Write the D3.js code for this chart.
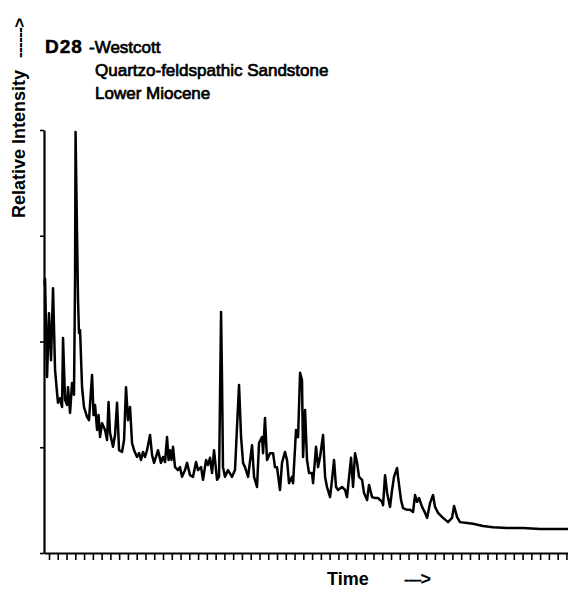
<!DOCTYPE html>
<html>
<head>
<meta charset="utf-8">
<script src="https://cdn.jsdelivr.net/npm/d3@7"></script>
<style>
  html, body { margin: 0; padding: 0; background: #fff; }
  svg { display: block; }
  text { font-family: "Liberation Sans", Arial, Helvetica, sans-serif; fill: #000; }
</style>
</head>
<body>
<div id="chart"></div>
<script>
// ---- Data ----
const titleLines = ["Quartzo-feldspathic Sandstone", "Lower Miocene"];
const sampleId = "D28";
const sampleName = "-Westcott";
const xLabel = "Time";
const yLabel = "Relative Intensity";

// Time (tick units) and relative intensity (% of tallest peak)
const time = [
  0.49, 0.55, 0.78, 1.00, 1.23, 1.46, 1.69, 1.92, 2.03, 2.26, 2.49, 2.60, 2.83, 3.06, 3.17, 3.40,
  3.63, 3.85, 3.97, 4.03, 4.14, 4.31, 4.42, 4.54, 4.77, 4.99, 5.34, 5.56, 5.91, 6.08, 6.25, 6.48,
  6.65, 6.82, 7.05, 7.39, 7.62, 7.79, 7.96, 8.30, 8.53, 8.76, 8.99, 9.33, 9.56, 9.78, 10.01, 10.24,
  10.47, 10.70, 11.04, 11.27, 11.49, 11.72, 11.95, 12.18, 12.52, 12.75, 12.98, 13.20, 13.43, 13.77,
  14.00, 14.23, 14.46, 14.63, 14.80, 14.97, 15.14, 15.37, 15.71, 15.94, 16.17, 16.51, 16.74, 17.08,
  17.42, 17.77, 17.99, 18.34, 18.56, 18.91, 19.13, 19.36, 19.59, 19.82, 20.16, 20.39, 20.62, 20.73,
  20.84, 21.07, 21.41, 21.87, 22.21, 22.44, 22.67, 22.90, 23.13, 23.35, 23.70, 24.15, 24.38, 24.72,
  24.95, 25.29, 25.41, 25.63, 25.86, 26.20, 26.55, 26.77, 27.00, 27.34, 27.57, 27.91, 28.14, 28.37,
  28.71, 28.83, 29.17, 29.40, 29.63, 29.85, 29.97, 30.20, 30.42, 30.65, 30.99, 31.11, 31.45, 31.68,
  31.91, 32.25, 32.48, 32.70, 33.05, 33.27, 33.50, 33.73, 33.96, 34.41, 34.76, 34.98, 35.44, 35.67,
  35.90, 36.13, 36.35, 36.70, 36.92, 37.27, 37.49, 37.84, 38.18, 38.52, 38.98, 39.09, 39.32, 39.55,
  39.89, 40.12, 40.34, 40.69, 40.80, 41.14, 41.37, 41.83, 42.17, 42.51, 42.74, 42.97, 43.19, 43.54,
  43.88, 44.11, 44.45, 44.79, 45.02, 45.36, 45.93, 46.50, 46.96, 47.19, 47.53, 47.87, 48.67, 49.35,
  50.49, 51.63, 53.23, 55.06, 56.99, 58.93, 60.18
];
const intensity = [
  63.4, 64.8, 41.6, 56.7, 45.6, 62.6, 43.3, 37.8, 35.5, 36.6, 34.5, 50.8, 36.2, 35.0, 39.2, 33.1,
  40.2, 37.4, 64.5, 99.5, 83.4, 59.8, 52.0, 52.7, 39.2, 34.5, 32.2, 31.4, 42.1, 32.6, 35.0, 29.1,
  32.6, 27.4, 30.7, 29.1, 26.7, 35.7, 28.4, 25.1, 27.9, 35.5, 24.3, 23.9, 26.7, 39.2, 31.4, 34.5,
  26.0, 24.3, 22.7, 23.6, 22.0, 23.9, 22.7, 24.3, 27.9, 23.2, 21.3, 22.7, 24.3, 21.3,
  22.7, 21.5, 27.4, 22.0, 24.3, 22.0, 25.1, 20.3, 19.6, 20.3, 18.0, 19.6, 21.3, 18.4,
  18.0, 21.5, 19.6, 20.3, 17.3, 22.0, 20.8, 22.5, 18.9, 24.3, 17.3, 18.0, 57.0, 40.9,
  20.3, 18.0, 19.6, 18.0, 19.6, 29.8, 39.7, 27.4, 21.3, 20.3, 18.0, 25.5, 18.0, 15.6,
  26.0, 27.4, 23.6, 31.9, 22.0, 23.6, 23.6, 20.3, 20.3, 14.9, 21.3, 23.9, 22.0, 16.5,
  18.0, 16.5, 29.1, 27.4, 42.6, 40.9, 22.7, 33.8, 22.0, 18.9, 18.9, 16.5, 25.1, 20.3,
  22.7, 27.9, 18.0, 15.6, 13.2, 17.3, 22.0, 15.6, 14.9, 15.6, 14.9, 13.2, 22.5, 15.6,
  23.6, 21.3, 18.0, 17.3, 14.2, 12.5, 16.1, 13.2, 13.0, 13.0, 12.1, 11.3, 18.4, 14.2,
  10.9, 14.9, 18.0, 20.1, 18.0, 12.5, 10.6, 10.2, 10.2, 9.7, 13.7, 12.1, 13.0, 10.9,
  9.5, 8.3, 11.8, 13.7, 10.9, 9.5, 8.3, 7.3, 8.3, 11.1, 8.5, 7.3, 7.1, 6.9,
  6.4, 6.1, 5.9, 5.9, 5.7, 5.7, 5.7
];
const xTicks = d3.range(1, 61);          // one tick per time unit
const yTicks = [0, 25, 50, 75, 100];     // relative intensity ticks

// ---- Layout ----
const W = 568, H = 589;
const svg = d3.select("#chart").append("svg").attr("width", W).attr("height", H);

const x = d3.scaleLinear().domain([0.43, 60.18]).range([44, 568]);
const y = d3.scaleLinear().domain([0, 100]).range([553, 130]);

// axes
const gx = svg.append("g").attr("transform", `translate(0,${y(0)})`)
  .call(d3.axisBottom(x).tickValues(xTicks).tickSize(7).tickSizeOuter(0).tickFormat(""));
gx.select(".domain").attr("stroke", "#000").attr("stroke-width", 2);
gx.selectAll(".tick line").attr("stroke", "#000").attr("stroke-width", 1.6);

const gy = svg.append("g").attr("transform", `translate(${x(0.43)},0)`)
  .call(d3.axisLeft(y).tickValues(yTicks).tickSize(4).tickSizeOuter(0).tickFormat(""));
gy.select(".domain").attr("stroke", "#000").attr("stroke-width", 2.2);
gy.selectAll(".tick line").attr("stroke", "#000").attr("stroke-width", 1.6);

// trace
const pts = time.map((t, i) => [t, intensity[i]]);
svg.append("path")
  .datum(pts)
  .attr("fill", "none")
  .attr("stroke", "#000")
  .attr("stroke-width", 2.5)
  .attr("stroke-linejoin", "round")
  .attr("d", d3.line().x(d => x(d[0])).y(d => y(d[1])));

// title block
const t1 = svg.append("text").attr("x", 45).attr("y", 53).attr("font-size", 17);
t1.append("tspan").attr("font-weight", "bold").attr("font-size", 19)
  .attr("letter-spacing", 1).attr("stroke", "#000").attr("stroke-width", 0.5).text(sampleId);
t1.append("tspan").attr("x", 89).attr("stroke", "#000").attr("stroke-width", 0.7).text(sampleName);
titleLines.forEach((s, i) => {
  svg.append("text").attr("x", 95).attr("y", 76 + i * 23)
    .attr("font-size", 17).attr("stroke", "#000").attr("stroke-width", 0.7).text(s);
});

// y label
svg.append("text")
  .attr("transform", "translate(25,218) rotate(-90)")
  .attr("font-size", 18).attr("font-weight", "bold")
  .text(yLabel);
svg.append("text")
  .attr("transform", "translate(25,58) rotate(-90)")
  .attr("font-size", 17).attr("font-weight", "bold").attr("letter-spacing", -0.6)
  .text("------>");

// x label
svg.append("text").attr("x", 327).attr("y", 585)
  .attr("font-size", 18).attr("font-weight", "bold").text(xLabel);
const arr = svg.append("text").attr("x", 404).attr("y", 585).attr("font-size", 16);
arr.append("tspan").attr("letter-spacing", -1.2).attr("stroke", "#000").attr("stroke-width", 0.4).text("----");
arr.append("tspan").attr("font-weight", "bold").attr("font-size", 18).text(">");
</script>
</body>
</html>
